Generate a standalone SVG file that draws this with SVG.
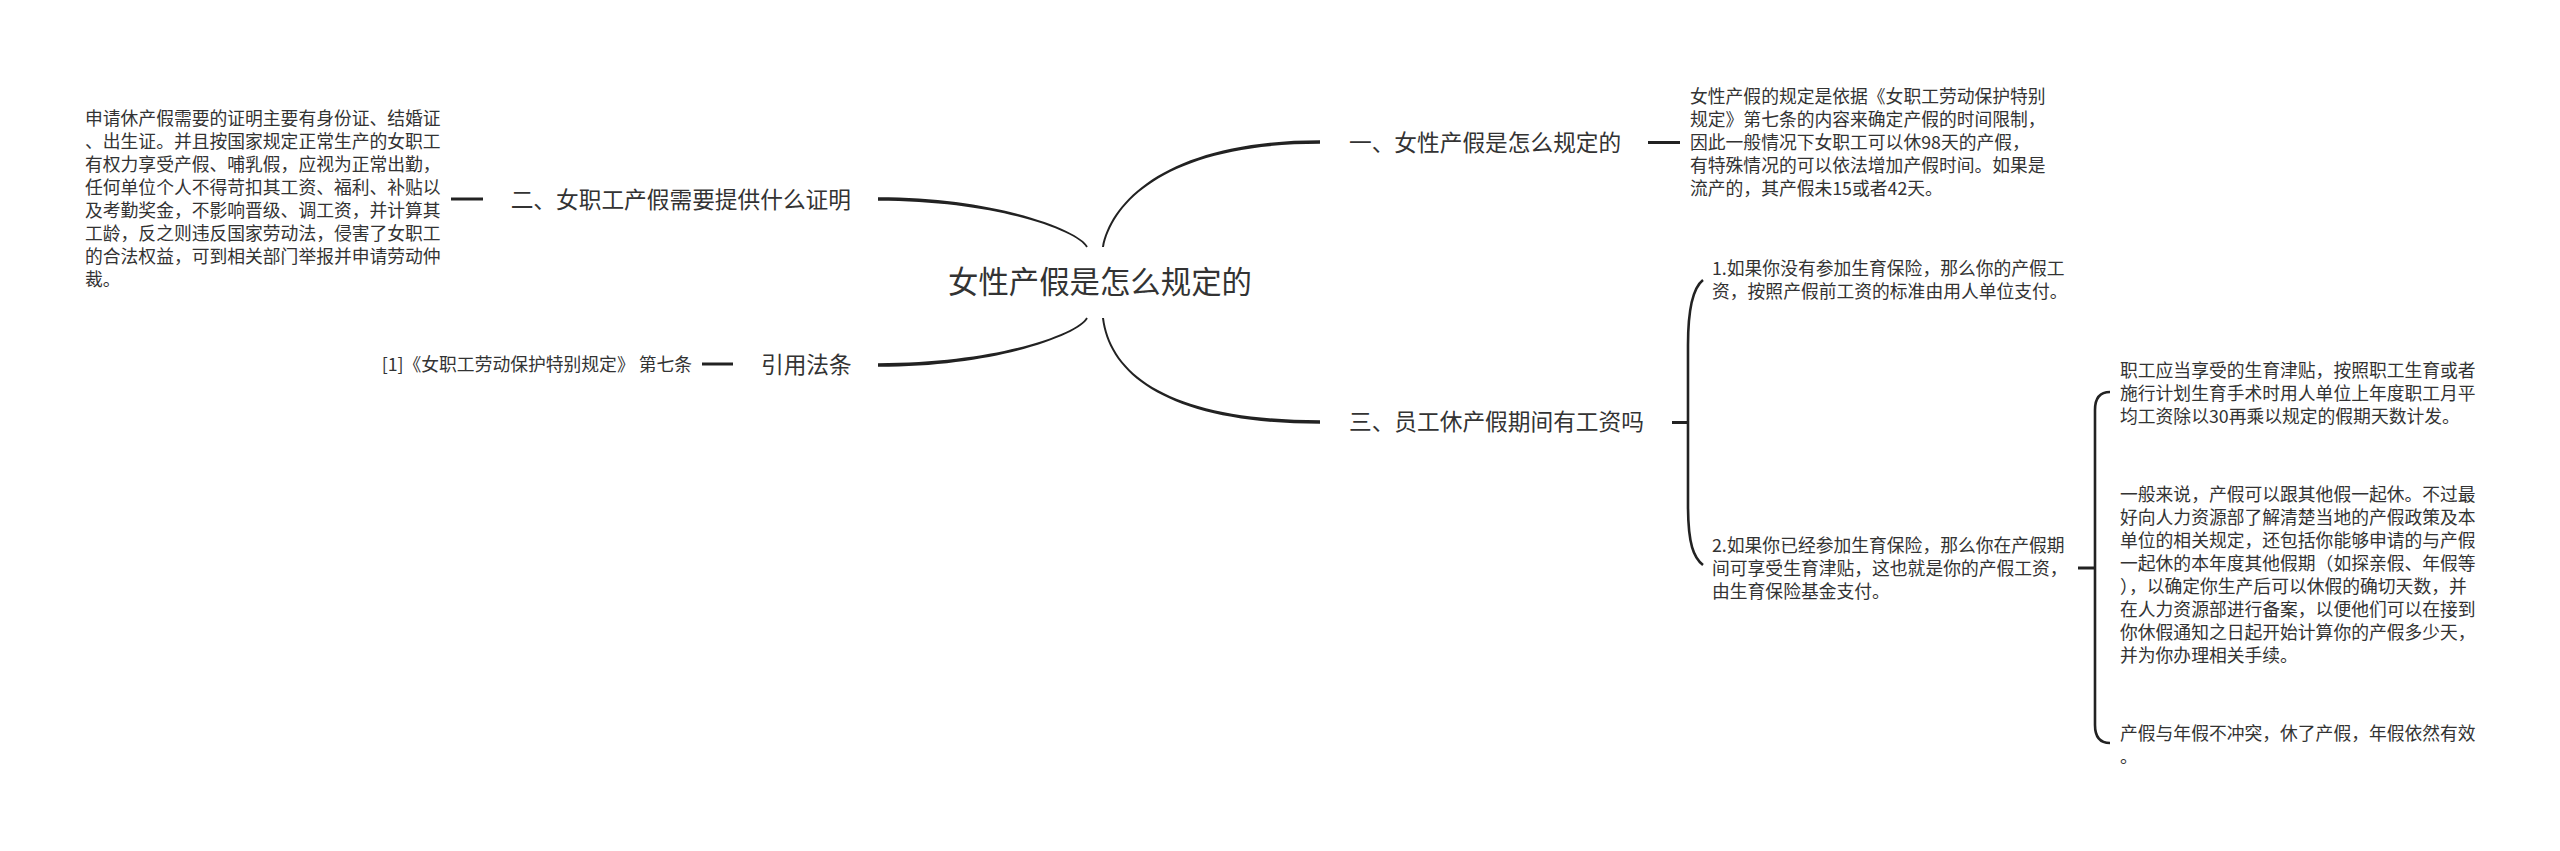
<svg xmlns="http://www.w3.org/2000/svg" width="2560" height="851" viewBox="0 0 2560 851">
<style>
text{font-family:"Noto Sans CJK SC","Noto Sans",sans-serif;fill:#333}
.t{font-size:17.8px}
.n1{font-size:22.7px}
.c{font-size:30.4px}
.stub{stroke:#222;stroke-width:3;fill:none}
.br{stroke:#222;stroke-width:2.6;fill:none}
.tap{fill:#222}
</style>
<rect width="2560" height="851" fill="#fff"/>
<g id="connectors">
<path class="tap" d="M1102,247 C1111,199.5 1170,140.25 1320,140.25 L1320,143.75 C1170,143.75 1113,200.5 1104,247 Z"/>
<path class="tap" d="M1087.8,246.5 C1080.8,231.5 1000,197.25 878,197.25 L878,200.75 C1000,200.75 1079.2,232.5 1086.2,247.5 Z"/>
<path class="tap" d="M1087.8,318.5 C1080.8,333.5 1000,366.75 878,366.75 L878,363.25 C1000,363.25 1079.2,332.5 1086.2,317.5 Z"/>
<path class="tap" d="M1102,318 C1109,375.5 1170,423.75 1320,423.75 L1320,420.25 C1170,420.25 1111,374.5 1104,318 Z"/>
<path class="stub" d="M1648,142.5 H1680"/>
<path class="stub" d="M451,199 H483"/>
<path class="stub" d="M702,364 H733"/>
<path class="stub" d="M1672,422.5 H1688"/>
<path class="br" d="M1703,280 C1694,287 1688,305 1688,345 L1688,505 C1688,545 1694,558 1703,565"/>
<path class="stub" d="M2078,568 H2095"/>
<path class="br" d="M2110,392 C2100,392 2095,398 2095,410 L2095,725 C2095,737 2100,743 2110,743"/>
</g>
<g id="center">
<text class="c" x="948" y="293.4">女性产假是怎么规定的</text>
</g>
<g id="node-1">
<text class="n1" x="1349" y="150.6">一、女性产假是怎么规定的</text>
</g>
<g id="node-1-text">
<text class="t" x="1690" y="102.8">女性产假的规定是依据《女职工劳动保护特别</text>
<text class="t" x="1690" y="125.8">规定》第七条的内容来确定产假的时间限制，</text>
<text class="t" x="1690" y="148.8">因此一般情况下女职工可以休98天的产假，</text>
<text class="t" x="1690" y="171.8">有特殊情况的可以依法增加产假时间。如果是</text>
<text class="t" x="1690" y="194.8">流产的，其产假未15或者42天。</text>
</g>
<g id="node-2">
<text class="n1" x="851" y="207.6" text-anchor="end">二、女职工产假需要提供什么证明</text>
</g>
<g id="node-2-text">
<text class="t" x="85" y="125.3">申请休产假需要的证明主要有身份证、结婚证</text>
<text class="t" x="85" y="148.3">、出生证。并且按国家规定正常生产的女职工</text>
<text class="t" x="85" y="171.3">有权力享受产假、哺乳假，应视为正常出勤，</text>
<text class="t" x="85" y="194.3">任何单位个人不得苛扣其工资、福利、补贴以</text>
<text class="t" x="85" y="217.3">及考勤奖金，不影响晋级、调工资，并计算其</text>
<text class="t" x="85" y="240.3">工龄，反之则违反国家劳动法，侵害了女职工</text>
<text class="t" x="85" y="263.3">的合法权益，可到相关部门举报并申请劳动仲</text>
<text class="t" x="85" y="286.3">裁。</text>
</g>
<g id="node-ref">
<text class="n1" x="761" y="372.6">引用法条</text>
</g>
<g id="node-ref-text">
<text class="t" x="692" y="370.8" text-anchor="end">[1]《女职工劳动保护特别规定》 第七条</text>
</g>
<g id="node-3">
<text class="n1" x="1349" y="429.6">三、员工休产假期间有工资吗</text>
</g>
<g id="node-3-1">
<text class="t" x="1712" y="274.5">1.如果你没有参加生育保险，那么你的产假工</text>
<text class="t" x="1712" y="297.5">资，按照产假前工资的标准由用人单位支付。</text>
</g>
<g id="node-3-2">
<text class="t" x="1712" y="551.8">2.如果你已经参加生育保险，那么你在产假期</text>
<text class="t" x="1712" y="574.8">间可享受生育津贴，这也就是你的产假工资，</text>
<text class="t" x="1712" y="597.8">由生育保险基金支付。</text>
</g>
<g id="node-3-2-1">
<text class="t" x="2120" y="376.8">职工应当享受的生育津贴，按照职工生育或者</text>
<text class="t" x="2120" y="399.8">施行计划生育手术时用人单位上年度职工月平</text>
<text class="t" x="2120" y="422.8">均工资除以30再乘以规定的假期天数计发。</text>
</g>
<g id="node-3-2-2">
<text class="t" x="2120" y="500.8">一般来说，产假可以跟其他假一起休。不过最</text>
<text class="t" x="2120" y="523.8">好向人力资源部了解清楚当地的产假政策及本</text>
<text class="t" x="2120" y="546.8">单位的相关规定，还包括你能够申请的与产假</text>
<text class="t" x="2120" y="569.8">一起休的本年度其他假期（如探亲假、年假等</text>
<text class="t" x="2120" y="592.8">），以确定你生产后可以休假的确切天数，并</text>
<text class="t" x="2120" y="615.8">在人力资源部进行备案，以便他们可以在接到</text>
<text class="t" x="2120" y="638.8">你休假通知之日起开始计算你的产假多少天，</text>
<text class="t" x="2120" y="661.8">并为你办理相关手续。</text>
</g>
<g id="node-3-2-3">
<text class="t" x="2120" y="739.8">产假与年假不冲突，休了产假，年假依然有效</text>
<text class="t" x="2120" y="762.8">。</text>
</g>
</svg>
